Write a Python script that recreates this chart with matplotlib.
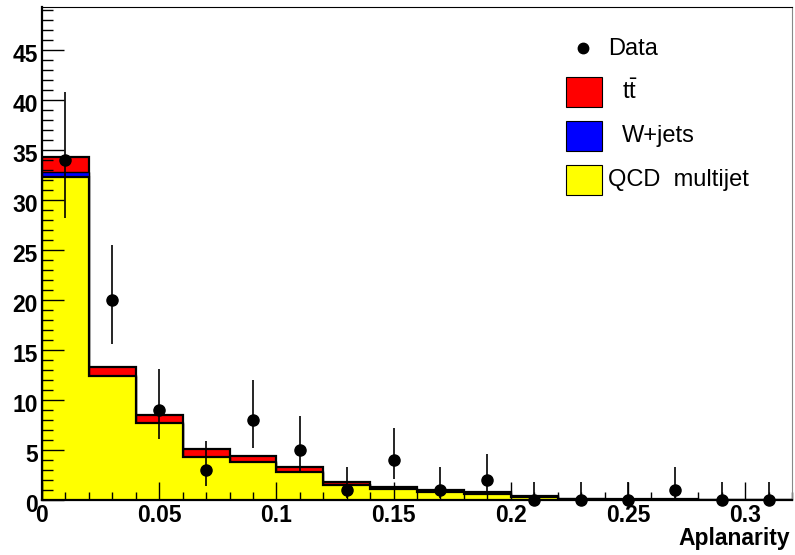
import numpy as np
import matplotlib
matplotlib.use("Agg")
import matplotlib.pyplot as plt
import matplotlib.transforms as mtransforms
from matplotlib.patches import Rectangle
from matplotlib.lines import Line2D
from matplotlib.ticker import MultipleLocator, FixedLocator, FixedFormatter

plt.rcParams['font.family'] = ['Liberation Sans', 'DejaVu Sans']
plt.rcParams['mathtext.fontset'] = 'custom'
plt.rcParams['mathtext.rm'] = 'Liberation Sans'

# bin edges of the aplanarity histogram
edges = np.linspace(0.0, 0.32, 17)
centers = 0.5 * (edges[:-1] + edges[1:])

# stacked MC components
qcd = [32.3, 12.4, 7.7, 4.3, 3.8, 2.8, 1.55, 1.1, 0.85, 0.6, 0.33, 0.07, 0.05, 0.04, 0.03, 0.02]
wjets = [0.5, 0.05, 0.05, 0.05, 0.04, 0.03, 0.02, 0.02, 0.02, 0.02, 0.01, 0.01, 0.01, 0.01, 0.01, 0.01]
ttbar = [1.5, 0.85, 0.75, 0.75, 0.6, 0.45, 0.25, 0.2, 0.13, 0.18, 0.11, 0.03, 0.02, 0.01, 0.01, 0.01]

# data with asymmetric (Poisson) error bars
data = [34, 20, 9, 3, 8, 5, 1, 4, 1, 2, 0, 0, 0, 1, 0, 0]
err_lo = [5.8, 4.4, 2.9, 1.6, 2.8, 2.2, 0.8, 1.9, 0.8, 1.3, 0, 0, 0, 0.8, 0, 0]
err_hi = [6.8, 5.5, 4.1, 2.9, 4.0, 3.4, 2.3, 3.2, 2.3, 2.6, 1.8, 1.8, 1.8, 2.3, 1.8, 1.8]

W, H = 795, 555
fig = plt.figure(figsize=(W / 100, H / 100), dpi=100)
ax = fig.add_axes([42 / W, (H - 500) / H, 750 / W, 493 / H])

qcd = np.array(qcd)
s_w = qcd + np.array(wjets)
s_tt = s_w + np.array(ttbar)

# draw stack from the top layer down, ROOT style
ax.stairs(s_tt, edges, fill=True, facecolor='#ff0000', edgecolor='black', linewidth=1.6)
ax.stairs(s_w, edges, fill=True, facecolor='#0000ff', edgecolor='black', linewidth=1.0)
ax.stairs(qcd, edges, fill=True, facecolor='#ffff00', edgecolor='black', linewidth=1.6)

ax.errorbar(centers, data, yerr=[err_lo, err_hi], fmt='o', color='black',
            markersize=8, elinewidth=1.2, capsize=0, zorder=5, clip_on=False)

ax.set_xlim(0, 0.32)
ax.set_ylim(0, 49.3)

ax.xaxis.set_major_locator(FixedLocator([0, 0.05, 0.1, 0.15, 0.2, 0.25, 0.3]))
ax.xaxis.set_major_formatter(FixedFormatter(['0', '0.05', '0.1', '0.15', '0.2', '0.25', '0.3']))
ax.xaxis.set_minor_locator(MultipleLocator(0.01))
ax.yaxis.set_major_locator(MultipleLocator(5))
ax.yaxis.set_minor_locator(MultipleLocator(1))

ax.tick_params(which='both', direction='in', top=False, right=False, width=1.0)
ax.tick_params(axis='x', which='major', length=13, pad=3)
ax.tick_params(axis='x', which='minor', length=6)
ax.tick_params(axis='y', which='major', length=16, pad=3)
ax.tick_params(axis='y', which='minor', length=8)
shift = mtransforms.ScaledTranslation(0, -3 / 100, fig.dpi_scale_trans)
for lab in ax.get_xticklabels() + ax.get_yticklabels():
    lab.set_fontsize(16.5)
    lab.set_fontweight('bold')
for lab in ax.get_yticklabels():
    lab.set_transform(lab.get_transform() + shift)

for side in ['left', 'bottom']:
    ax.spines[side].set_linewidth(1.6)
ax.spines['top'].set_linewidth(0.8)
ax.spines['right'].set_linewidth(0.8)
ax.spines['right'].set_color('#888888')

fig.text(790 / W, 1 - 539 / H, 'Aplanarity', ha='right', va='center',
         fontsize=16.5, fontweight='bold')

# legend drawn by hand in figure pixels
def px(x, y):
    return x / W, 1 - y / H

fig.add_artist(Line2D([px(583, 48)[0]], [px(583, 48)[1]], marker='o', color='black',
                      markersize=7.5, transform=fig.transFigure))
fig.text(*px(608, 49), 'Data', ha='left', va='center', fontsize=17)

boxes = [('#ff0000', 92, r'$\mathrm{t\bar{t}}$', 622),
         ('#0000ff', 136, 'W+jets', 622),
         ('#ffff00', 180, 'QCD  multijet', 608)]
for col, yc, lab, xt in boxes:
    x0, y0 = px(566, yc + 15)
    fig.add_artist(Rectangle((x0, y0), 36 / W, 30 / H, facecolor=col, edgecolor='black',
                             linewidth=0.8, transform=fig.transFigure))
    fig.text(*px(xt, yc), lab, ha='left', va='center', fontsize=17)

fig.savefig('out.png', dpi=100)
